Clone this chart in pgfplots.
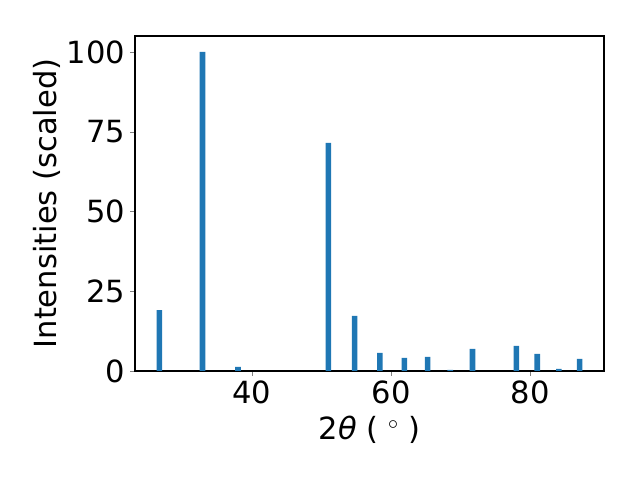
\documentclass[border=0pt]{standalone}
\usepackage{pgfplots}
\pgfplotsset{compat=1.18}
\usepackage{fontspec}
\setmainfont{DejaVu Sans}
\definecolor{mplblue}{HTML}{1F77B4}
\begin{document}
\begin{tikzpicture}
\path (-97.2pt,-78.5pt) rectangle (363.6pt,267.1pt);
\begin{axis}[
  at={(0,0)}, anchor=south west,
  scale only axis,
  width=337.7pt, height=241.2pt,
  xmin=23.2, xmax=90.6, ymin=0, ymax=105,
  xtick={40,60,80}, ytick={0,25,50,75,100},
  tick align=outside, tick pos=left,
  major tick length=3.5pt,
  /pgf/number format/assume math mode=true,
  ticklabel style={font=\fontsize{22}{26}\selectfont},
  label style={font=\fontsize{22}{26}\selectfont},
  xlabel={2\textit{θ} ( $^\circ$ )},
  ylabel={Intensities (scaled)},
  xlabel style={yshift=-2pt},
  ylabel style={yshift=-2pt},
  axis line style={line width=0.8pt},
  ybar, bar width=0.8, bar shift=0pt,
]
\addplot[fill=mplblue, draw=none] coordinates {
(26.7,19.1) (32.9,100) (38.0,1.25) (50.98,71.5) (54.75,17.3)
(58.4,5.65) (61.9,4.08) (65.25,4.39) (68.5,0.31) (71.7,6.9)
(78.0,7.84) (81.0,5.33) (84.1,0.63) (87.1,3.77)
};
\end{axis}
\end{tikzpicture}
\end{document}
